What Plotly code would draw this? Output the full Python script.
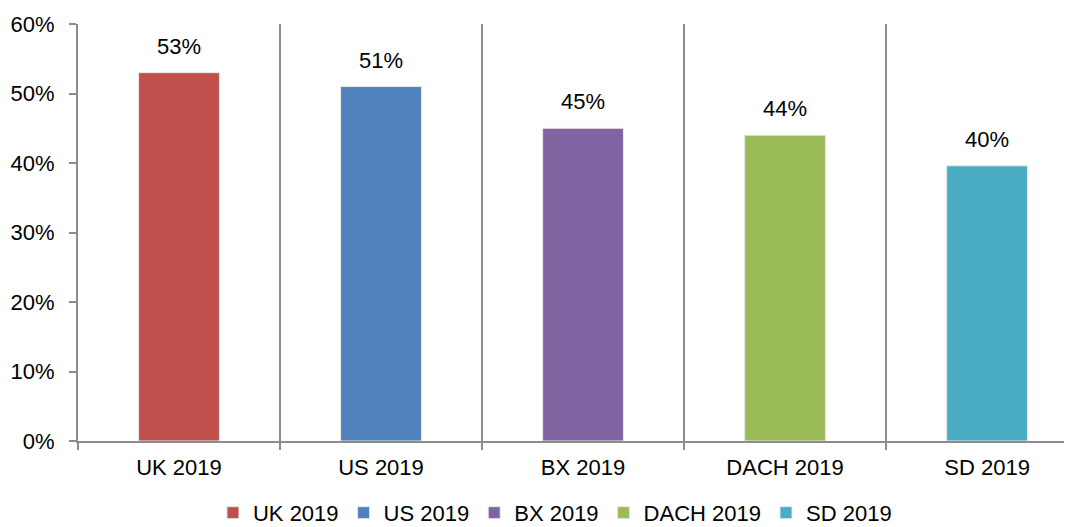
import plotly.graph_objects as go

categories = ["UK 2019", "US 2019", "BX 2019", "DACH 2019", "SD 2019"]
values = [0.53, 0.51, 0.45, 0.44, 0.396]
colors = ["#C0504D", "#4F81BD", "#8064A2", "#9BBB59", "#4BACC6"]

FONT = "Liberation Sans, Arial, sans-serif"
GRAY = "#8C8C8C"
FS = 22

fig = go.Figure()
for cat, val, col in zip(categories, values, colors):
    fig.add_trace(go.Bar(
        x=[cat], y=[val], name=cat, width=0.4,
        marker=dict(color=col, line=dict(color="#E8E8E8", width=1)),
        hoverinfo="skip",
    ))

annotations = []
for cat, val in zip(categories, values):
    annotations.append(dict(
        x=cat, y=val, xref="x", yref="y", text=f"{val:.0%}",
        showarrow=False, yanchor="bottom", yshift=12,
        font=dict(size=FS, color="#000000", family=FONT),
    ))

fig.update_layout(
    width=1072, height=527,
    margin=dict(l=70, r=0, t=16, b=94, autoexpand=False),
    paper_bgcolor="white", plot_bgcolor="white",
    barmode="overlay",
    font=dict(family=FONT, size=FS, color="#000000"),
    annotations=annotations,
    showlegend=True,
    legend=dict(
        orientation="h", x=0.476, xanchor="center",
        yref="container", y=0.042, yanchor="middle",
        font=dict(size=FS, family=FONT, color="#000000"),
        itemwidth=30, tracegroupgap=0,
    ),
    xaxis=dict(
        type="category", range=[-0.5, 4.46],
        showline=True, linecolor=GRAY, linewidth=2,
        ticks="outside", ticklen=7, tickcolor=GRAY, tickwidth=2,
        tickson="boundaries", ticklabelstandoff=6,
        showgrid=True, gridcolor=GRAY, gridwidth=2,
        tickfont=dict(size=FS, family=FONT),
        automargin=False, fixedrange=True,
    ),
    yaxis=dict(
        range=[0, 0.6], dtick=0.1, tickformat=".0%",
        showline=True, linecolor=GRAY, linewidth=2,
        ticks="outside", ticklen=7, tickcolor=GRAY, tickwidth=2,
        ticklabelstandoff=10,
        showgrid=False, zeroline=False,
        tickfont=dict(size=FS, family=FONT),
        automargin=False, fixedrange=True,
    ),
)

fig.write_html("out.html")
